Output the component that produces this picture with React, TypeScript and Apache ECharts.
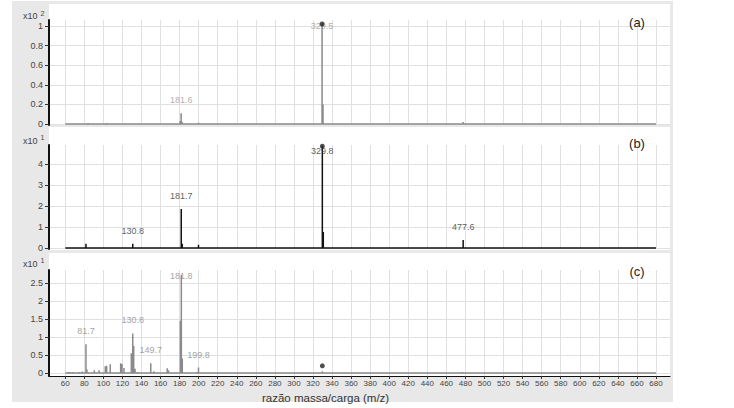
import React, { useEffect, useRef } from "react";
import * as echarts from "echarts";

// ---- data ----
const mzTicks = [60, 80, 100, 120, 140, 160, 180, 200, 220, 240, 260, 280, 300, 320, 340, 360, 380, 400, 420, 440, 460, 480, 500, 520, 540, 560, 580, 600, 620, 640, 660, 680];
const yTicksA = [0, 0.2, 0.4, 0.6, 0.8, 1];
const yTicksB = [0, 1, 2, 3, 4];
const yTicksC = [0, 0.5, 1, 1.5, 2, 2.5];

// panel (a), intensity x10^2
const mzA = [84, 90, 95, 98, 104, 108, 118, 132, 180.6, 181.6, 182.6, 199.8, 329.5, 330.5, 477.6];
const intA = [0.01, 0.005, 0.008, 0.006, 0.01, 0.008, 0.006, 0.008, 0.03, 0.11, 0.02, 0.012, 1.02, 0.2, 0.02];

// panel (b), intensity x10^1
const mzB = [81.7, 103, 107, 113, 122, 130.8, 149.7, 181.7, 182.7, 199.8, 284, 329.8, 330.8, 374, 477.6];
const intB = [0.2, 0.02, 0.02, 0.02, 0.02, 0.2, 0.03, 1.86, 0.2, 0.16, 0.03, 4.85, 0.76, 0.03, 0.38];

// panel (c), intensity x10^1
const mzC = [63, 65, 68, 75, 78, 81.7, 82.7, 90.5, 95.4, 102, 103.4, 107.2, 118.1, 119.5, 121.6, 129.3, 130.8, 131.8, 133.2, 136, 149.7, 153.1, 167, 168.3, 180.8, 181.8, 182.8, 197.9, 199.8, 296, 315, 329.8, 476.7];
const intC = [0.03, 0.03, 0.03, 0.03, 0.04, 0.8, 0.1, 0.08, 0.08, 0.19, 0.2, 0.24, 0.27, 0.25, 0.14, 0.55, 1.1, 0.75, 0.12, 0.03, 0.27, 0.05, 0.13, 0.08, 1.45, 2.72, 0.4, 0.03, 0.15, 0.02, 0.02, 0.05, 0.03];

const labelsA = [181.6, 329.5];
const labelsB = [130.8, 181.7, 329.8, 477.6];
const labelsC = [81.7, 130.8, 149.7, 181.8, 199.8];

const precursorMz = [329.5, 329.8, 329.8];
const precursorInt = [1.02, 4.85, 0.2];

const panelNames = ["(a)", "(b)", "(c)"];
const exponents = ["2", "1", "1"];
const xTitle = "razão massa/carga (m/z)";

// ---- layout / style ----
const FONT = '"Liberation Sans", Arial, sans-serif';
const GRIDS = [
  { top: 20, height: 105, min: -0.0102, max: 1.061 },
  { top: 145, height: 104, min: -0.048, max: 4.905 },
  { top: 270, height: 106, min: -0.083, max: 2.861 },
];
const LINE_COLORS = ["#8a8a8a", "#111111", "#8a8a8a"];
const LABEL_COLORS = ["#999999", "#333333", "#8a8a8a"];
const GRID_COLOR = "#e0e0e0";
const X_MIN = 42.9;
const X_MAX = 694.7;

function stickData(mz: number[], it: number[]) {
  const pts: number[][] = [[mzTicks[0], 0]];
  mz.forEach((m, i) => {
    pts.push([m, 0], [m, it[i]], [m, 0]);
  });
  pts.push([mzTicks[mzTicks.length - 1], 0]);
  return pts;
}

function labelData(labels: number[], mz: number[], it: number[], g: any) {
  return labels.map((m) => {
    let best = 0;
    mz.forEach((v, i) => {
      if (Math.abs(v - m) < Math.abs(mz[best] - m)) best = i;
    });
    const h = it[best];
    const py = g.top + ((g.max - h) / (g.max - g.min)) * g.height;
    const clamp = py - 14 < g.top + 6;
    return {
      value: [m, h],
      label: clamp
        ? { position: "inside", offset: [0, g.top + 6 - py] }
        : { position: "top", distance: 8 },
    };
  });
}

export default function App() {
  const ref = useRef<HTMLDivElement>(null);
  useEffect(() => {
    if (!ref.current) return;
    const chart = echarts.init(ref.current, undefined, { renderer: "svg" });
    const mzs = [mzA, mzB, mzC];
    const ints = [intA, intB, intC];
    const labs = [labelsA, labelsB, labelsC];
    const yTicks = [yTicksA, yTicksB, yTicksC];

    const grid = GRIDS.map((g) => ({ left: 49, right: 64, top: g.top, height: g.height, containLabel: false }));
    const xAxis = GRIDS.map((g, i) => ({
      type: "value",
      gridIndex: i,
      min: X_MIN,
      max: X_MAX,
      axisLine: { show: i === 2, onZero: false, lineStyle: { color: "#111", width: 1 } },
      axisTick: { show: i === 2, length: 3, customValues: mzTicks, lineStyle: { color: "#333" } },
      axisLabel: { show: i === 2, customValues: mzTicks, fontSize: 8, color: "#444", fontFamily: FONT, margin: 3 },
      splitLine: { show: true, lineStyle: { color: GRID_COLOR, width: 1 } },
    }));
    const yAxis = GRIDS.map((g, i) => ({
      type: "value",
      gridIndex: i,
      min: g.min,
      max: g.max,
      axisLine: { show: true, onZero: false, lineStyle: { color: "#111", width: 2 } },
      axisTick: { show: true, length: 4, customValues: yTicks[i], lineStyle: { color: "#333" } },
      axisLabel: { customValues: yTicks[i], fontSize: 9, color: "#444", fontFamily: FONT, margin: 6 },
      splitLine: { show: true, lineStyle: { color: GRID_COLOR, width: 1 } },
    }));

    const series: any[] = [];
    GRIDS.forEach((g, i) => {
      series.push({
        type: "line",
        xAxisIndex: i,
        yAxisIndex: i,
        data: stickData(mzs[i], ints[i]),
        showSymbol: false,
        symbol: "none",
        silent: true,
        lineStyle: { color: LINE_COLORS[i], width: 1.5 },
        z: 3,
      });
      series.push({
        type: "scatter",
        xAxisIndex: i,
        yAxisIndex: i,
        symbolSize: 1,
        itemStyle: { color: "rgba(0,0,0,0)" },
        silent: true,
        data: labelData(labs[i], mzs[i], ints[i], g),
        label: {
          show: true,
          formatter: (p: any) => String(p.value[0]),
          fontSize: 9,
          fontFamily: FONT,
          color: LABEL_COLORS[i],
        },
        z: 4,
      });
      series.push({
        type: "scatter",
        xAxisIndex: i,
        yAxisIndex: i,
        symbol: "circle",
        symbolSize: 5,
        itemStyle: { color: "#222" },
        silent: true,
        data: [[precursorMz[i], precursorInt[i]]],
        z: 5,
      });
    });

    const graphicEls: any[] = [
      { type: "rect", z: -10, shape: { x: 12, y: 1, width: 661, height: 401 }, style: { fill: "#e8e8e8" } },
      { type: "rect", z: -9, shape: { x: 49, y: 4, width: 621, height: 121 }, style: { fill: "#ffffff" } },
      { type: "rect", z: -9, shape: { x: 49, y: 127, width: 621, height: 123 }, style: { fill: "#ffffff" } },
      { type: "rect", z: -9, shape: { x: 49, y: 253, width: 621, height: 123 }, style: { fill: "#ffffff" } },
    ];
    const expY = [16, 140.5, 263.5];
    const nameY = [22.5, 143, 271.5];
    GRIDS.forEach((g, i) => {
      graphicEls.push({
        type: "text",
        z: 10,
        x: 23,
        y: expY[i],
        style: { text: "x10", fontSize: 9, fontFamily: FONT, fill: "#444", verticalAlign: "middle", textVerticalAlign: "middle" },
      });
      graphicEls.push({
        type: "text",
        z: 10,
        x: 40.5,
        y: expY[i] - 3,
        style: { text: exponents[i], fontSize: 7, fontFamily: FONT, fill: "#444", verticalAlign: "middle", textVerticalAlign: "middle" },
      });
      graphicEls.push({
        type: "text",
        z: 10,
        x: 637,
        y: nameY[i],
        style: { text: panelNames[i], fontSize: 13, fontFamily: FONT, fill: "#222", align: "center", textAlign: "center", verticalAlign: "middle", textVerticalAlign: "middle" },
      });
    });
    graphicEls.push({
      type: "text",
      z: 10,
      x: 262,
      y: 397.5,
      style: { text: xTitle, fontSize: 11.5, fontFamily: FONT, fill: "#333", verticalAlign: "middle", textVerticalAlign: "middle" },
    });

    chart.setOption({
      animation: false,
      backgroundColor: "#ffffff",
      grid,
      xAxis,
      yAxis,
      series,
      graphic: { elements: graphicEls },
    });
    return () => chart.dispose();
  }, []);
  return <div ref={ref} style={{ position: "absolute", left: 0, top: 0, width: 734, height: 408 }} />;
}
